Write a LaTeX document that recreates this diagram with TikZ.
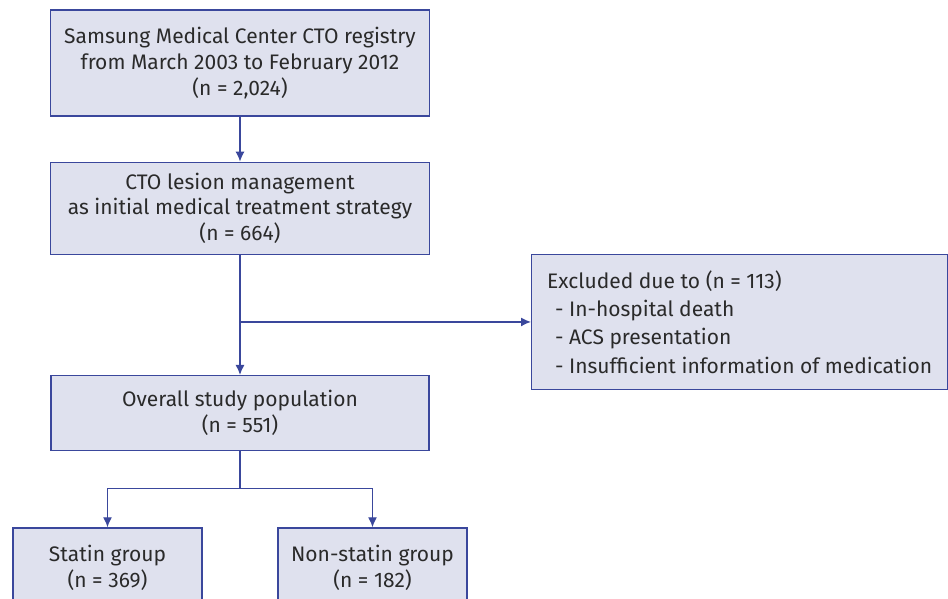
\documentclass[tikz,border=0pt]{standalone}
\usepackage{fontspec}
\setmainfont{Fira Sans}
\usepackage{xcolor}
\usepackage{tikz}
\usetikzlibrary{calc, positioning, arrows.meta}
\definecolor{flowblue}{HTML}{3A479C}
\definecolor{flowfill}{HTML}{DFE1EE}
\definecolor{flowtext}{HTML}{2A2A2A}
\tikzset{
    box/.style={rectangle, draw=flowblue, line width=1.3pt, fill=flowfill, align=center, text=flowtext, font=\fontsize{21}{25.8}\selectfont, inner sep=0pt},
    listbox/.style={box, align=left, font=\fontsize{21}{28.3}\selectfont},
    arrow/.style={-{Latex[length=10pt, width=9pt]}, line width=1.3pt, draw=flowblue},
    wire/.style={line width=1.3pt, draw=flowblue}
}

\begin{document}
\begin{tikzpicture}[x=1pt, y=1pt, node distance=40pt]
        \useasboundingbox (0,0) rectangle (948,-598);

        % Registry
        \node[box, minimum width=379pt, minimum height=106pt] (registry) at (240,-63) {Samsung Medical Center CTO registry\\from March 2003 to February 2012\\(n = 2,024)};

        % Medical treatment
        \node[box, minimum width=379pt, minimum height=92pt, below=45pt of registry] (mgmt) {CTO lesion management\\as initial medical treatment strategy\\(n = 664)};

        % Study population
        \node[box, minimum width=378pt, minimum height=75pt, below=120pt of mgmt] (overall) {Overall study population\\(n = 551)};

        % Exclusion
        \coordinate[below=67pt of mgmt] (split);
        \node[listbox, minimum width=416pt, minimum height=135pt, right=291pt of split] (excluded) {Excluded due to (n = 113)\\\hspace*{8pt}- In-hospital death\\\hspace*{8pt}- ACS presentation\\\hspace*{8pt}- Insufficient information of medication};

        % Groups
        \coordinate[below=37pt of overall] (fork);
        \node[box, minimum width=189pt, minimum height=80pt, below=39pt of fork, xshift=-132.5pt] (statin) {Statin group\\(n = 369)};
        \node[box, minimum width=189pt, minimum height=80pt, below=39pt of fork, xshift=132.5pt] (nonstatin) {Non-statin group\\(n = 182)};

        % Wires
        \draw[arrow] (registry) -- (mgmt);
        \draw[arrow] (mgmt) -- (overall);
        \draw[arrow] (split) -- (excluded);
        \draw[wire] (overall) -- (fork);
        \draw[arrow] (fork) -| (statin);
        \draw[arrow] (fork) -| (nonstatin);

    \end{tikzpicture}
\end{document}
